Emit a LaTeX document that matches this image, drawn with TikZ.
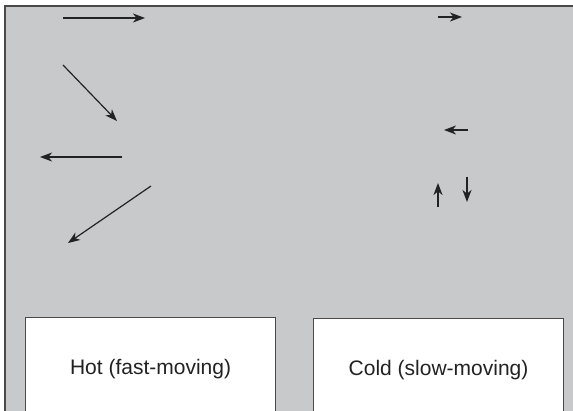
\documentclass[tikz,border=0pt]{standalone}
\usepackage{fontspec}
\setmainfont{Liberation Sans}
\usetikzlibrary{arrows.meta}
\definecolor{chamber}{HTML}{C8C9CB}
\definecolor{edge}{HTML}{4A4A4A}
\definecolor{ink}{HTML}{222222}
\tikzset{
  x=1pt, y=1pt,
  particle/.style={draw=ink, line width=1.2pt, -{Stealth[length=12pt,width=9pt,inset=3.5pt]}},
  container/.style={draw=edge, fill=white, line width=1.2pt, minimum width=250pt,
    minimum height=103pt, anchor=north west, inner sep=0pt, text=ink,
    font=\fontsize{21}{25}\selectfont},
}
\begin{document}
\begin{tikzpicture}
\useasboundingbox (0,0) rectangle (573,410);
\clip (0,0) rectangle (573,410);
% gas chamber
\fill[chamber] (5,-5) rectangle (573,404);
\draw[edge, line width=1.4pt] (5,-5) -- (5,404) -- (573,404);
% containers
\node[container] (hot) at (25,93) {Hot (fast-moving)};
\node[container] (cold) at (313,92) {Cold (slow-moving)};
% fast molecules
\draw[particle] (63,392) -- (145,392);
\draw[particle] (63,345) -- (117,289);
\draw[particle] (122,253) -- (40,253);
\draw[particle] (151,224) -- (68,167);
% slow molecules
\draw[particle] (438,393) -- (462,393);
\draw[particle] (468,280) -- (444,280);
\draw[particle] (438,203) -- (438,227);
\draw[particle] (467,233) -- (467,208);
\end{tikzpicture}
\end{document}
